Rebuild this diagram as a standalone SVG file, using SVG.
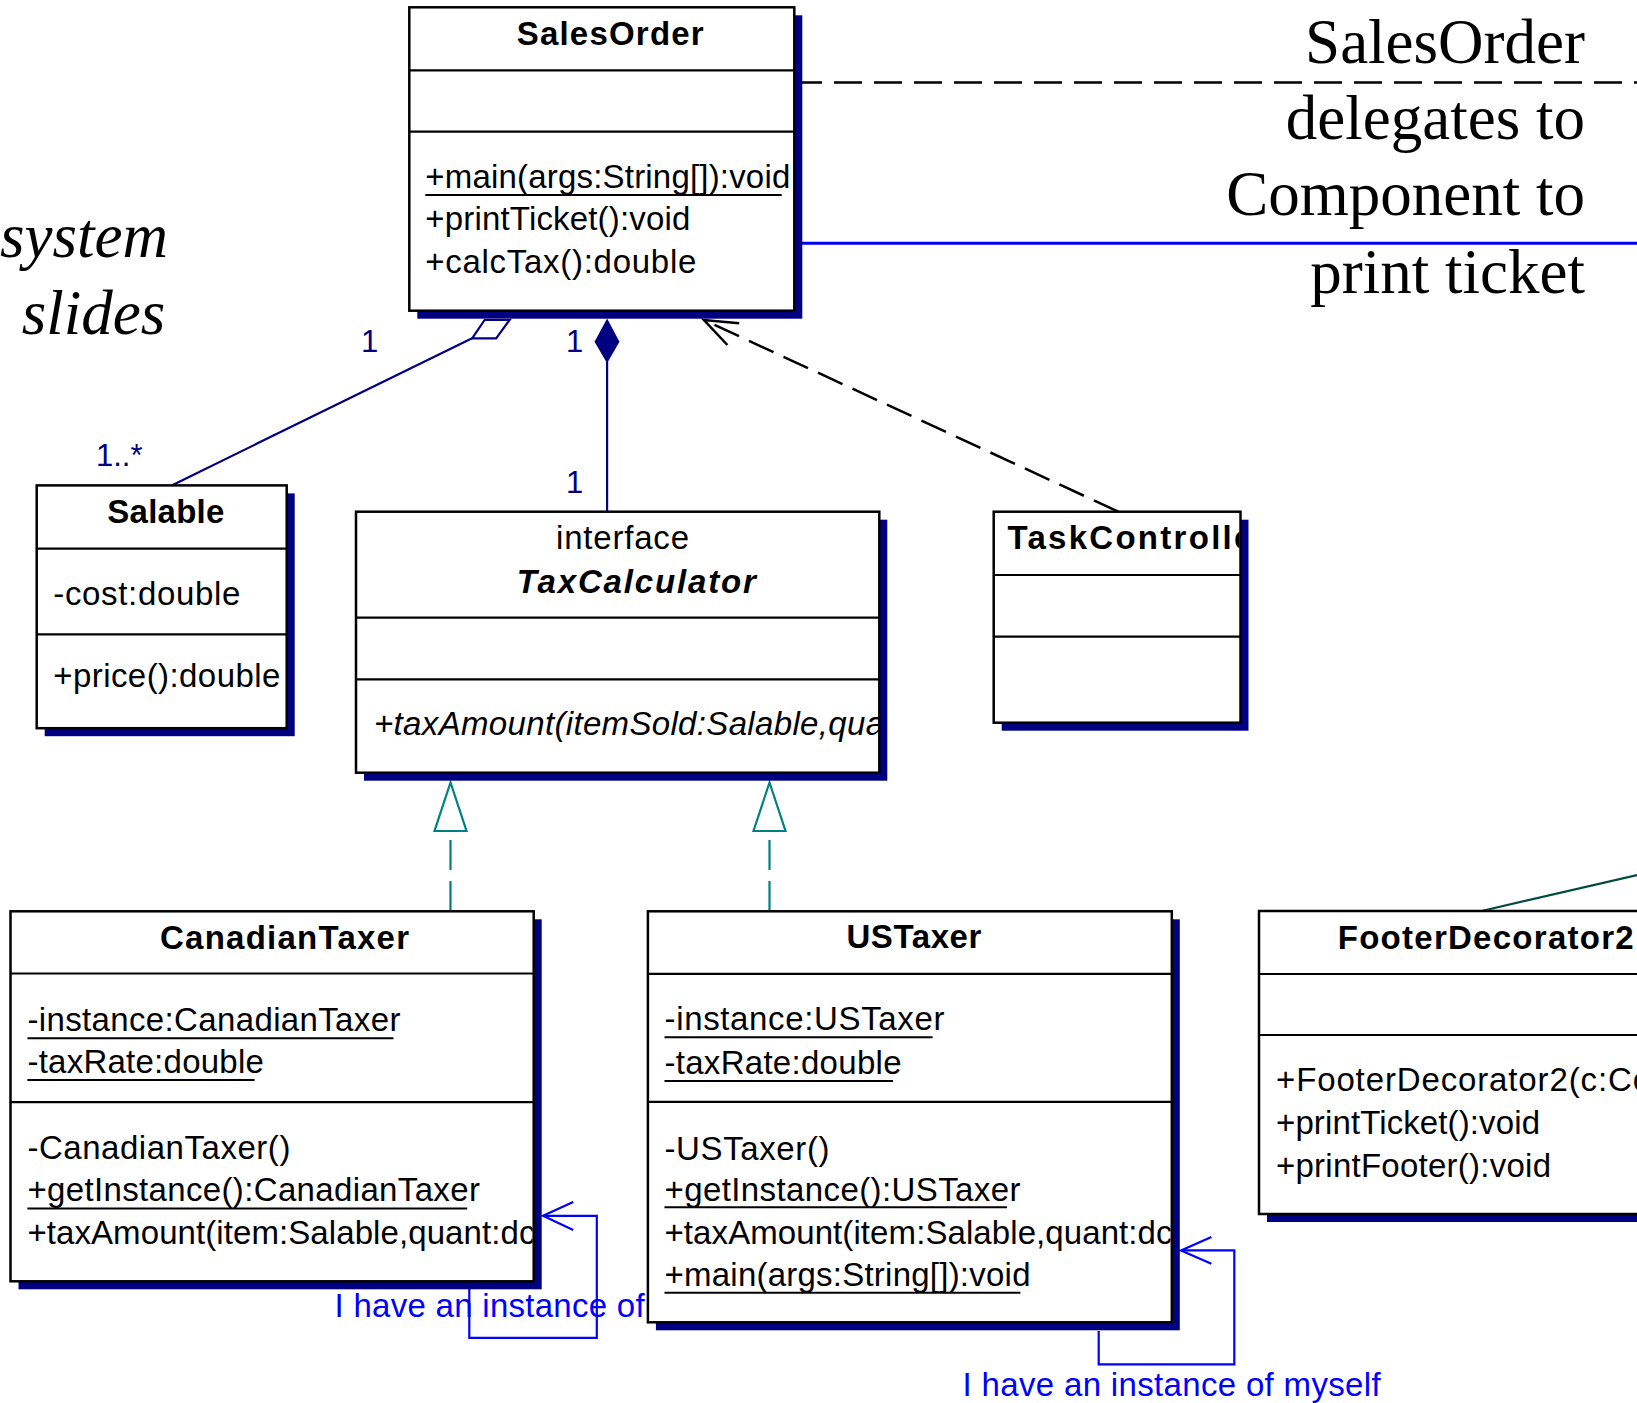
<svg xmlns="http://www.w3.org/2000/svg" width="1637" height="1403" viewBox="0 0 1637 1403">
<style>
  .box{fill:#fff;stroke:#000;stroke-width:2.5}
  .shadow{fill:#000080;stroke:none}
  .div{stroke:#000;stroke-width:2.2}
  .t{font-family:"Liberation Sans",Arial,sans-serif;font-size:33px;fill:#000}
  .b{font-weight:bold}
  .i{font-style:italic}
  .ul{stroke:#000;stroke-width:2}
  .serif{font-family:"Liberation Serif","Times New Roman",serif;font-size:63px;fill:#000}
  .mult{font-family:"Liberation Sans",Arial,sans-serif;font-size:31px;fill:#000080}
  .note{font-family:"Liberation Sans",Arial,sans-serif;font-size:33px;fill:#0000ff}
  .navy{stroke:#000080;stroke-width:2.2;fill:none}
  .dash{stroke:#000;stroke-width:2.5;fill:none;stroke-dasharray:27 11}
  .real{stroke:#008080;stroke-width:2.2;fill:none;stroke-dasharray:30 11}
  .tri{stroke:#008080;stroke-width:2.2;fill:#fff}
  .self{stroke:#0000ff;stroke-width:2.2;fill:none}
</style>
<defs>
  <clipPath id="clipTax"><rect x="357" y="680" width="521" height="92"/></clipPath>
  <clipPath id="clipTask"><rect x="995" y="513" width="244.5" height="61"/></clipPath>
  <clipPath id="clipCan"><rect x="11" y="1103" width="521.5" height="177"/></clipPath>
  <clipPath id="clipUS"><rect x="649" y="1103" width="521.5" height="218"/></clipPath>
</defs>
<rect x="0" y="0" width="1637" height="1403" fill="#fff"/>

<g id="background-text">
  <text class="serif i" x="0" y="257">system</text>
  <text class="serif i" x="21.7" y="333.6">slides</text>
  <text class="serif" x="1585" y="62.5" text-anchor="end">SalesOrder</text>
  <text class="serif" x="1585" y="138.5" text-anchor="end">delegates to</text>
  <text class="serif" x="1585" y="214.5" text-anchor="end">Component to</text>
  <text class="serif" x="1585" y="292.5" text-anchor="end">print ticket</text>
</g>

<g id="connectors">
  <path d="M794 82.5 H1637" stroke="#000" stroke-width="2.5" fill="none" stroke-dasharray="28 12"/>
  <path d="M794 243.3 H1637" stroke="#0000ff" stroke-width="3" fill="none"/>
  <!-- aggregation SalesOrder - Salable -->
  <path class="navy" d="M171.7 485.4 L472.1 338.3"/>
  <polygon points="472.1,338.3 496.1,338.3 509.6,320 484.6,320" fill="#fff" stroke="#000080" stroke-width="2.2"/>
  <text class="mult" x="361" y="351.7">1</text>
  <text class="mult" x="96" y="465.7">1..*</text>
  <!-- composition SalesOrder - TaxCalculator -->
  <path class="navy" d="M607.1 361.7 V511.7"/>
  <polygon points="607.1,320 618.6,341.7 607.1,361.7 595.4,341.7" fill="#000080" stroke="#000080" stroke-width="1.5"/>
  <text class="mult" x="566" y="351.7">1</text>
  <text class="mult" x="566" y="493.3">1</text>
  <!-- dependency TaskController -> SalesOrder -->
  <path class="dash" d="M1118.4 511.7 L704 320"/>
  <path d="M739.2 323.3 L704 320 L727.4 345" stroke="#000" stroke-width="2.5" fill="none"/>
  <!-- realizations -->
  <path class="real" d="M450.5 911 V831"/>
  <polygon class="tri" points="450.5,782.5 434.5,831 466.5,831"/>
  <path class="real" d="M769.5 911 V831"/>
  <polygon class="tri" points="769.5,782.5 753.5,831 785.5,831"/>
  <!-- footer decorator line -->
  <path d="M1481.7 911 L1637 875" stroke="#004a40" stroke-width="2.2" fill="none"/>
  <!-- self associations -->
  <text class="note" x="334.6" y="1316.8" textLength="310" lengthAdjust="spacing">I have an instance of</text>
  <path class="self" d="M543 1215.8 H596.8 V1337.9 H469.3 V1288"/>
  <path class="self" d="M573.2 1202.1 L543 1215.8 L573.2 1229.9"/>
  <path class="self" d="M1181 1250.4 H1234.3 V1364.3 H1098.7 V1331"/>
  <path class="self" d="M1211.4 1237.1 L1181 1250.4 L1211.4 1263.8"/>
  <text class="note" x="962.6" y="1396" textLength="418" lengthAdjust="spacing">I have an instance of myself</text>
</g>

<g id="SalesOrder">
  <rect class="shadow" x="417.3" y="15.3" width="385" height="303.4"/>
  <rect class="box" x="409.3" y="7.3" width="385" height="303.4"/>
  <line class="div" x1="409.3" y1="70.3" x2="794.3" y2="70.3"/>
  <line class="div" x1="409.3" y1="131.7" x2="794.3" y2="131.7"/>
  <text class="t b" x="516.7" y="45" textLength="187" lengthAdjust="spacing">SalesOrder</text>
  <text class="t" x="425.3" y="188.3" textLength="365" lengthAdjust="spacing">+main(args:String[]):void</text>
  <line class="ul" x1="425.3" y1="195" x2="781.7" y2="195"/>
  <text class="t" x="425.3" y="230" textLength="265" lengthAdjust="spacing">+printTicket():void</text>
  <text class="t" x="425.3" y="273.3" textLength="271" lengthAdjust="spacing">+calcTax():double</text>
</g>

<g id="Salable">
  <rect class="shadow" x="44.7" y="493.4" width="250" height="242.8"/>
  <rect class="box" x="36.7" y="485.4" width="250" height="242.8"/>
  <line class="div" x1="36.7" y1="548.6" x2="286.7" y2="548.6"/>
  <line class="div" x1="36.7" y1="634.3" x2="286.7" y2="634.3"/>
  <text class="t b" x="107.3" y="522.9" textLength="117" lengthAdjust="spacing">Salable</text>
  <text class="t" x="53.3" y="605" textLength="187" lengthAdjust="spacing">-cost:double</text>
  <text class="t" x="53.3" y="687" textLength="227" lengthAdjust="spacing">+price():double</text>
</g>

<g id="TaxCalculator">
  <rect class="shadow" x="364" y="519.7" width="523.3" height="261"/>
  <rect class="box" x="356" y="511.7" width="523.3" height="261"/>
  <line class="div" x1="356" y1="617.7" x2="879.3" y2="617.7"/>
  <line class="div" x1="356" y1="679.3" x2="879.3" y2="679.3"/>
  <text class="t" x="556" y="549.3" textLength="133" lengthAdjust="spacing">interface</text>
  <text class="t b i" x="516.8" y="593.3" textLength="239" lengthAdjust="spacing">TaxCalculator</text>
  <text class="t i" x="374" y="735" textLength="510" lengthAdjust="spacing" clip-path="url(#clipTax)">+taxAmount(itemSold:Salable,qua</text>
</g>

<g id="TaskController">
  <rect class="shadow" x="1001.7" y="519.7" width="246.8" height="211"/>
  <rect class="box" x="993.7" y="511.7" width="246.8" height="211"/>
  <line class="div" x1="993.7" y1="575" x2="1240.5" y2="575"/>
  <line class="div" x1="993.7" y1="636.7" x2="1240.5" y2="636.7"/>
  <text class="t b" x="1007.4" y="549.3" textLength="245" lengthAdjust="spacing" clip-path="url(#clipTask)">TaskControlle</text>
</g>

<g id="CanadianTaxer">
  <rect class="shadow" x="18.5" y="919.3" width="523.2" height="370"/>
  <rect class="box" x="10.5" y="911.3" width="523.2" height="370"/>
  <line class="div" x1="10.5" y1="973.5" x2="533.7" y2="973.5"/>
  <line class="div" x1="10.5" y1="1102.2" x2="533.7" y2="1102.2"/>
  <text class="t b" x="160" y="949.4" textLength="249" lengthAdjust="spacing">CanadianTaxer</text>
  <text class="t" x="27.4" y="1030.8" textLength="373" lengthAdjust="spacing">-instance:CanadianTaxer</text>
  <line class="ul" x1="27.4" y1="1038.2" x2="393.5" y2="1038.2"/>
  <text class="t" x="27.4" y="1073.4" textLength="236.5" lengthAdjust="spacing">-taxRate:double</text>
  <line class="ul" x1="27.4" y1="1080" x2="254.6" y2="1080"/>
  <text class="t" x="27.4" y="1158.5" textLength="263" lengthAdjust="spacing">-CanadianTaxer()</text>
  <text class="t" x="27.4" y="1201" textLength="452.5" lengthAdjust="spacing">+getInstance():CanadianTaxer</text>
  <line class="ul" x1="27.4" y1="1208.4" x2="467.2" y2="1208.4"/>
  <text class="t" x="27.4" y="1243.5" textLength="508" lengthAdjust="spacing" clip-path="url(#clipCan)">+taxAmount(item:Salable,quant:dc</text>
</g>

<g id="USTaxer">
  <rect class="shadow" x="655.9" y="919.3" width="523.9" height="411"/>
  <rect class="box" x="647.9" y="911.3" width="523.9" height="411"/>
  <line class="div" x1="647.9" y1="973.9" x2="1171.8" y2="973.9"/>
  <line class="div" x1="647.9" y1="1101.9" x2="1171.8" y2="1101.9"/>
  <text class="t b" x="846.4" y="948.4" textLength="135" lengthAdjust="spacing">USTaxer</text>
  <text class="t" x="664.5" y="1030.4" textLength="280" lengthAdjust="spacing">-instance:USTaxer</text>
  <line class="ul" x1="664.5" y1="1037.3" x2="932.6" y2="1037.3"/>
  <text class="t" x="664.5" y="1073.6" textLength="237" lengthAdjust="spacing">-taxRate:double</text>
  <line class="ul" x1="664.5" y1="1080.9" x2="893" y2="1080.9"/>
  <text class="t" x="664.5" y="1159.6" textLength="165" lengthAdjust="spacing">-USTaxer()</text>
  <text class="t" x="664.5" y="1201.2" textLength="356" lengthAdjust="spacing">+getInstance():USTaxer</text>
  <line class="ul" x1="664.5" y1="1207.2" x2="1007" y2="1207.2"/>
  <text class="t" x="664.5" y="1243.6" textLength="508" lengthAdjust="spacing" clip-path="url(#clipUS)">+taxAmount(item:Salable,quant:dc</text>
  <text class="t" x="664.5" y="1286" textLength="366" lengthAdjust="spacing">+main(args:String[]):void</text>
  <line class="ul" x1="664.5" y1="1292.8" x2="1020.4" y2="1292.8"/>
</g>

<g id="FooterDecorator2">
  <rect class="shadow" x="1267" y="919" width="460" height="303"/>
  <rect class="box" x="1259" y="911" width="460" height="303"/>
  <line class="div" x1="1259" y1="974" x2="1719" y2="974"/>
  <line class="div" x1="1259" y1="1035" x2="1719" y2="1035"/>
  <text class="t b" x="1337.7" y="949" textLength="296" lengthAdjust="spacing">FooterDecorator2</text>
  <text class="t" x="1276" y="1091" textLength="375" lengthAdjust="spacing">+FooterDecorator2(c:Co</text>
  <text class="t" x="1276" y="1134.3" textLength="264" lengthAdjust="spacing">+printTicket():void</text>
  <text class="t" x="1276" y="1176.7" textLength="275" lengthAdjust="spacing">+printFooter():void</text>
</g>
</svg>
